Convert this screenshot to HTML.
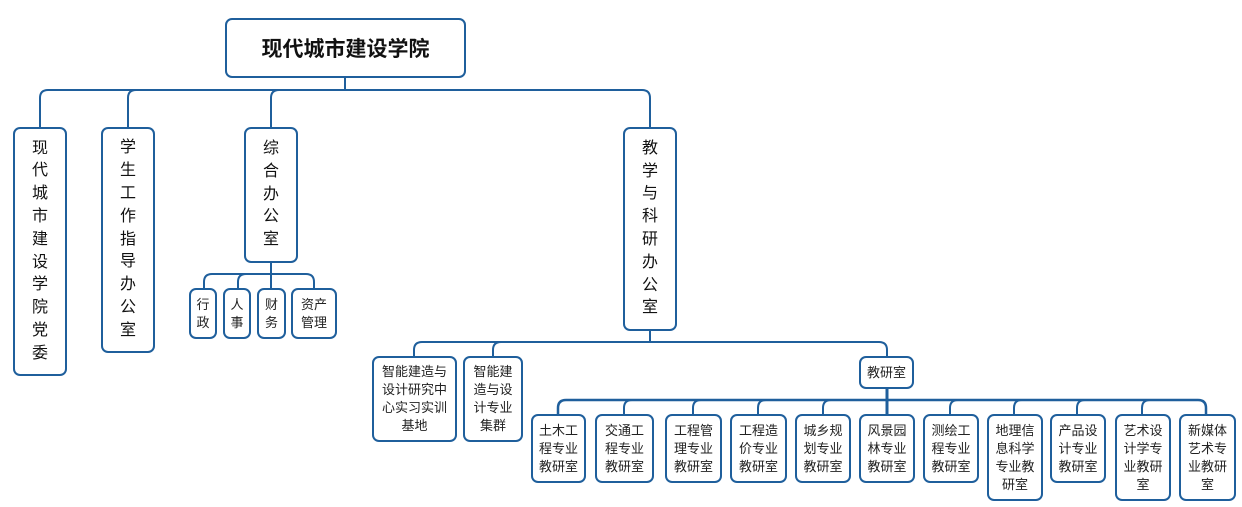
<!DOCTYPE html>
<html><head><meta charset="utf-8"><style>
html,body{margin:0;padding:0;background:#fff;}
body{width:1242px;height:507px;position:relative;overflow:hidden;font-family:"Liberation Sans","Noto Sans CJK SC",sans-serif;color:#111;}
.b{position:absolute;box-sizing:border-box;border:2px solid #1f5f9c;border-radius:7px;background:#fff;display:flex;align-items:center;justify-content:center;text-align:center;}
.v{font-size:16px;line-height:22.8px;}
.s{font-size:13px;line-height:18px;color:#222;}
svg{position:absolute;left:0;top:0;}
</style></head><body>
<svg width="1242" height="507" fill="none" stroke="#1f5f9c" stroke-width="2">
<path d="M345,77V90"/>
<path d="M40,127V98Q40,90 48,90H642Q650,90 650,98V127"/>
<path d="M128,127V98Q128,90 136,90"/>
<path d="M271,127V98Q271,90 279,90"/>
<path d="M271,262V288"/>
<path d="M204,288V282Q204,274 212,274H306Q314,274 314,282V288"/>
<path d="M238,288V282Q238,274 246,274"/>
<path d="M650,330V342"/>
<path d="M414,356V350Q414,342 422,342H879Q887,342 887,350V356"/>
<path d="M493,356V350Q493,342 501,342"/>
<path d="M887,388V414" stroke-width="3"/>
<path d="M558,414V408Q558,400 566,400H1198Q1206,400 1206,408V414" stroke-width="2.5"/>
<path d="M624,414V408Q624,400 632,400M693,414V408Q693,400 701,400M758,414V408Q758,400 766,400M823,414V408Q823,400 831,400M950,414V408Q950,400 958,400M1014,414V408Q1014,400 1022,400M1077,414V408Q1077,400 1085,400M1142,414V408Q1142,400 1150,400"/>
</svg>
<div class="b" style="left:225px;top:18px;width:241px;height:60px;font-size:21px;font-weight:bold;">现代城市建设学院</div>
<div class="b v" style="left:13px;top:127px;width:54px;height:249px;">现<br>代<br>城<br>市<br>建<br>设<br>学<br>院<br>党<br>委</div>
<div class="b v" style="left:101px;top:127px;width:54px;height:226px;">学<br>生<br>工<br>作<br>指<br>导<br>办<br>公<br>室</div>
<div class="b v" style="left:244px;top:127px;width:54px;height:136px;">综<br>合<br>办<br>公<br>室</div>
<div class="b v" style="left:623px;top:127px;width:54px;height:204px;">教<br>学<br>与<br>科<br>研<br>办<br>公<br>室</div>
<div class="b s" style="left:189px;top:288px;width:28px;height:51px;">行<br>政</div>
<div class="b s" style="left:223px;top:288px;width:28px;height:51px;">人<br>事</div>
<div class="b s" style="left:257px;top:288px;width:29px;height:51px;">财<br>务</div>
<div class="b s" style="left:291px;top:288px;width:46px;height:51px;">资产<br>管理</div>
<div class="b s" style="left:372px;top:356px;width:85px;height:86px;">智能建造与<br>设计研究中<br>心实习实训<br>基地</div>
<div class="b s" style="left:463px;top:356px;width:60px;height:86px;">智能建<br>造与设<br>计专业<br>集群</div>
<div class="b s" style="left:859px;top:356px;width:55px;height:33px;">教研室</div>
<div class="b s" style="left:531px;top:414px;width:55px;height:69px;">土木工<br>程专业<br>教研室</div>
<div class="b s" style="left:595px;top:414px;width:59px;height:69px;">交通工<br>程专业<br>教研室</div>
<div class="b s" style="left:665px;top:414px;width:57px;height:69px;">工程管<br>理专业<br>教研室</div>
<div class="b s" style="left:730px;top:414px;width:57px;height:69px;">工程造<br>价专业<br>教研室</div>
<div class="b s" style="left:795px;top:414px;width:56px;height:69px;">城乡规<br>划专业<br>教研室</div>
<div class="b s" style="left:859px;top:414px;width:56px;height:69px;">风景园<br>林专业<br>教研室</div>
<div class="b s" style="left:923px;top:414px;width:56px;height:69px;">测绘工<br>程专业<br>教研室</div>
<div class="b s" style="left:987px;top:414px;width:56px;height:87px;">地理信<br>息科学<br>专业教<br>研室</div>
<div class="b s" style="left:1050px;top:414px;width:56px;height:69px;">产品设<br>计专业<br>教研室</div>
<div class="b s" style="left:1115px;top:414px;width:56px;height:87px;">艺术设<br>计学专<br>业教研<br>室</div>
<div class="b s" style="left:1179px;top:414px;width:57px;height:87px;">新媒体<br>艺术专<br>业教研<br>室</div>
</body></html>
